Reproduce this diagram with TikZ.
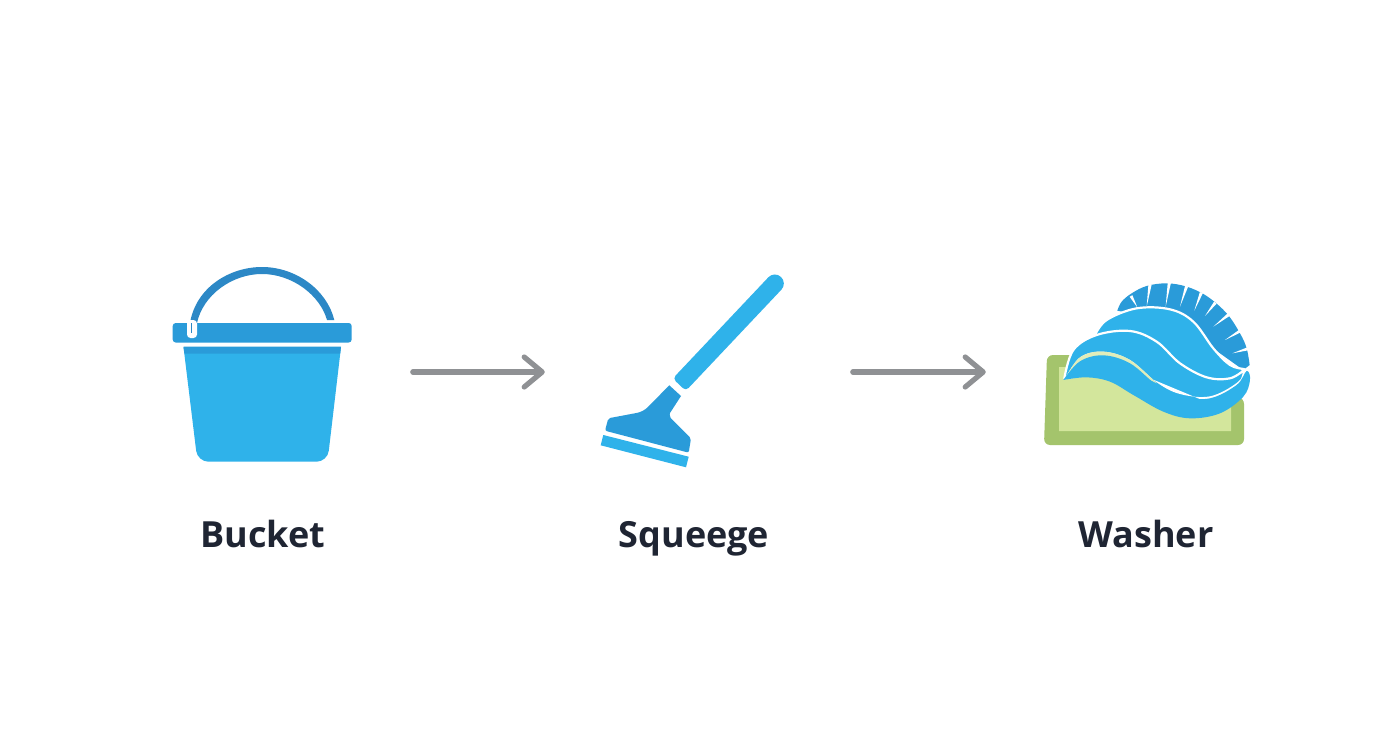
\documentclass[tikz,border=0pt]{standalone}
\usepackage{fontspec}
\setmainfont{Open Sans}
\usetikzlibrary{arrows.meta,calc}
\definecolor{bodyblue}{HTML}{2FB2EA}
\definecolor{rimblue}{HTML}{2A9BD9}
\definecolor{handleblue}{HTML}{2C88C6}
\definecolor{arrowgray}{HTML}{8F9194}
\definecolor{labelink}{HTML}{1F2533}
\definecolor{matgreen}{HTML}{A4C46C}
\definecolor{matlight}{HTML}{D3E69C}
\tikzset{
  x=1pt,y=-1pt,
  lbl/.style={font=\fontsize{36}{40}\selectfont\bfseries,text=labelink,inner sep=0pt,anchor=base},
  icon/.style={inner sep=0pt,minimum height=200pt},
  flow/.style={draw=arrowgray,line width=5.2pt,line cap=round,-{Straight Barb[length=18pt,width=30pt,line cap=round,line join=round]}},
  zoomed/.style={shift={#1},x=0.3333pt,y=-0.3333pt},
  wave/.style={fill=bodyblue,draw=white,line width=2.2pt,line join=round}
}
\begin{document}
\begin{tikzpicture}
\useasboundingbox[fill=white] (0,0) rectangle (1392,752);
% invisible icon regions carrying the connectors
\node[icon,minimum width=301.2pt] (bucket) at (262,372) {};
\node[icon,minimum width=307.6pt] (squeegee) at (698.8,372) {};
\node[icon,minimum width=320pt] (washer) at (1146,372) {};
\draw[flow] (bucket.east) -- (squeegee.west);
\draw[flow] (squeegee.east) -- (washer.west);
% bucket
\fill[handleblue] (190,323) .. controls (196,287) and (230,267) .. (262,267) .. controls (296,267) and (327,290) .. (334.3,320) -- (327,320) .. controls (320,295) and (292,274) .. (262,274) .. controls (232,274) and (203,295) .. (197,323) -- cycle;
\fill[rimblue,rounded corners=3pt] (172.7,323) rectangle (351.7,342.5);
\fill[white,rounded corners=3.5pt] (187,320) -- (187,338) -- (197,338) -- (197,320) -- cycle;
\draw[handleblue,line width=1pt] (191.3,323) -- (191.3,333);
\fill[bodyblue] (183.5,347) -- (341,347) [rounded corners=11pt] -- (327.5,461.7) -- (197.5,461.7) [sharp corners] -- cycle;
\fill[rimblue] (183.5,346.7) -- (341,346.7) -- (340.2,353.5) -- (184.4,353.5) -- cycle;
% squeegee
\fill[bodyblue,rounded corners=4pt] (672.8,378.5) -- (685.8,390.9) [rounded corners=8.9pt] -- (787.5,283.2) -- (774.5,270.8) [rounded corners=4pt] -- cycle;
\fill[rimblue] (669.3,385.3) -- (681,396) -- (670,413) [rounded corners=2pt] -- (669.3,416.7) -- (691,438.3) -- (688.7,452.7) -- (605,430.7) -- (608.3,418.3) [rounded corners=6pt] -- (643.3,411.7) [sharp corners] -- cycle;
\fill[bodyblue] (603.3,435) -- (688.7,456.7) -- (686,467.3) -- (600.7,445.3) -- cycle;
% washer
\fill[matgreen,rounded corners=6pt] (1047,355) -- (1075,355) -- (1244,398) -- (1244,445) -- (1044,445) -- cycle;
\fill[matlight] (1059,367) -- (1090,367) -- (1231,400) -- (1231,431) -- (1059,431) -- cycle;
\begin{scope}[zoomed={(1030,270)}]
  \fill[rimblue] plot[smooth,tension=0.6] coordinates {(262,122) (275,95) (305,70) (350,48) (410,40) (470,50) (530,78) (590,130) (630,190) (650,235) (659,285)} -- (640,300) -- (500,200) -- (400,140) -- (300,130) -- cycle;
  \foreach \a/\b/\c/\d in {303/78/322/112, 360/44/350/110, 418/38/407/110, 470/48/450/110, 514/68/493/122, 556/98/525/138, 596/134/550/170, 632/182/585/210, 655/236/607/250}
    \fill[white] ($(\a,\b)!1.6pt!90:(\c,\d)$) -- ($(\a,\b)!1.6pt!-90:(\c,\d)$) -- (\c,\d) -- cycle;
  % top wave
  \path[wave] plot[smooth,tension=0.6] coordinates {(195,195) (230,150) (320,115) (420,118) (490,155) (550,235) (600,285) (642,297)} -- (620,330) -- (530,340) -- (450,300) -- (380,240) -- (300,210) -- (200,215) -- cycle;
  % middle wave
  \path[wave] plot[smooth,tension=0.6] coordinates {(103,325) (130,240) (200,195) (300,183) (380,215) (450,280) (530,322) (600,325) (645,298)} -- (630,350) -- (540,400) -- (450,400) -- (380,370) -- (300,300) -- (220,280) -- (130,320) -- cycle;
  % bottom wave
  \fill[white] plot[smooth,tension=0.6] coordinates {(104,328) (150,262) (220,245) (300,270) (380,337) (450,372) (540,379) (620,339) (650,298)} -- (645,330) -- (540,400) -- (300,300) -- cycle;
  \fill[matlight!70!white] plot[smooth,tension=0.6] coordinates {(104,328) (150,262) (220,245) (300,270) (380,340)} -- (300,300) -- cycle;
  \fill[bodyblue] plot[smooth,tension=0.6] coordinates {(100,330) (150,274) (220,256) (300,280) (380,345) (450,380) (540,385) (620,345) (650,303) (660,330) (640,380) (570,430) (480,445) (400,425) (310,375) (240,335) (170,322) (100,330)} -- cycle;
\end{scope}
% labels
\node[lbl] (bucketlabel) at (263,547) {Bucket};
\node[lbl] (squeegeelabel) at (694,547) {Squeege};
\node[lbl] (washerlabel) at (1146,547) {Washer};
\end{tikzpicture}
\end{document}
